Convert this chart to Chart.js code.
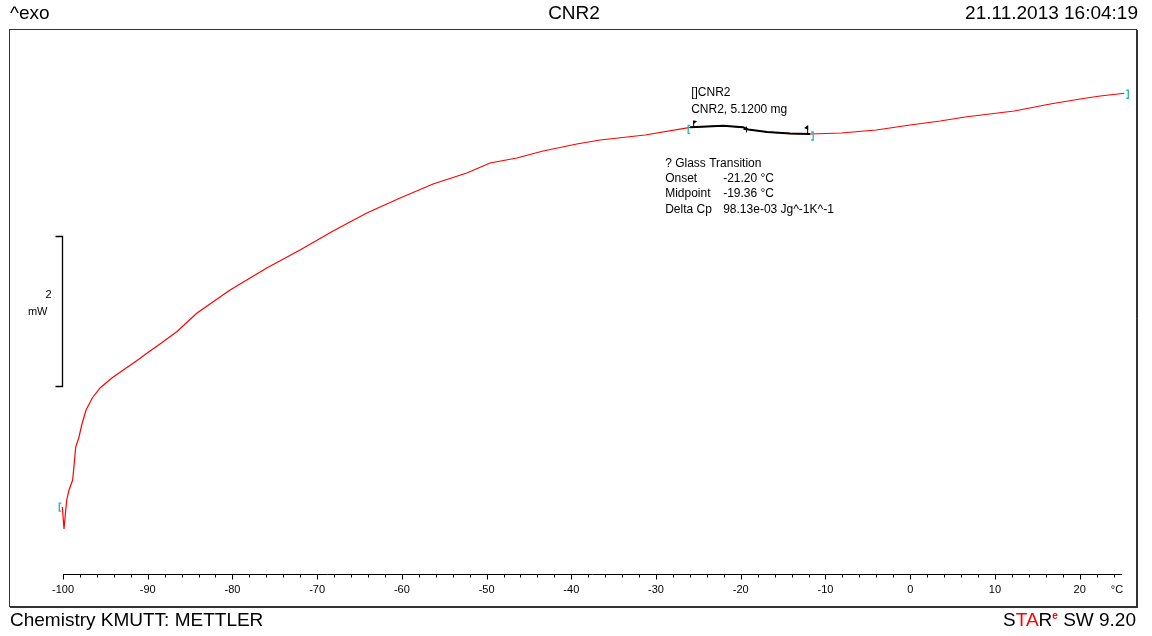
<!DOCTYPE html>
<html>
<head>
  <meta charset="utf-8">
  <title>CNR2 DSC</title>
  <script src="https://cdn.jsdelivr.net/npm/chart.js"></script>
  <style>
    body {
      margin: 0;
      padding: 0;
      background: #fff;
    }
    canvas {
      display: block;
    }
  </style>
</head>
<body>
  <canvas id="dsc" width="1152" height="636"></canvas>

  <script>
    // DSC curve: temperature (°C) vs heat flow (mW, relative to axis line)
    const temps = [-100.08, -99.96, -99.88, -99.73, -99.56, -99.29, -98.86, -98.67, -98.50, -98.11,
      -97.79, -97.28, -96.54, -95.63, -94.23, -92.80, -91.26, -89.73, -88.55, -86.54,
      -84.18, -80.28, -75.95, -72.02, -68.12, -64.14, -60.21, -56.32, -52.34, -49.59,
      -46.43, -43.33, -39.35, -36.60, -31.29, -25.97, -22.08, -19.72, -19.13, -16.88,
      -14.17, -11.81, -8.15, -4.01, 0, 3.54, 6.49, 12.28, 16.53, 20.43, 22.43, 25.27];
    const heatFlow = [0.893, 0.72, 0.60, 0.787, 0.987, 1.12, 1.253, 1.48, 1.693, 1.827,
      1.987, 2.187, 2.347, 2.48, 2.613, 2.727, 2.847, 2.973, 3.067, 3.233,
      3.48, 3.787, 4.08, 4.32, 4.573, 4.813, 5.013, 5.20, 5.347, 5.48,
      5.547, 5.64, 5.733, 5.787, 5.853, 5.956, 5.977, 5.956, 5.927, 5.893,
      5.873, 5.867, 5.88, 5.92, 5.987, 6.04, 6.093, 6.173, 6.267, 6.34, 6.373, 6.41];

    // evaluated glass transition range (black overlay)
    const tgTemps = [-25.97, -22.08, -19.72, -19.13, -16.88, -14.17, -11.81];
    const tgFlow = [5.956, 5.977, 5.956, 5.927, 5.893, 5.873, 5.867];
    const tgMidpoint = -19.36;

    // axes
    const tempMin = -100, tempMax = 25, tempStep = 2, tempLabelStep = 10;
    const flowMin = 0, flowMax = 7.2667;
    const scaleBar = [2.5, 4.5]; // 2 mW

    // texts
    const headerLeft = '^exo';
    const headerTitle = 'CNR2';
    const headerDate = '21.11.2013 16:04:19';
    const footerLeft = 'Chemistry KMUTT: METTLER';
    const sampleLines = ['[]CNR2', 'CNR2, 5.1200 mg'];
    const tgLines = [
      ['? Glass Transition', ''],
      ['Onset', '-21.20 °C'],
      ['Midpoint', '-19.36 °C'],
      ['Delta Cp', '98.13e-03 Jg^-1K^-1']
    ];

    const FONT = '"Liberation Sans", Arial, sans-serif';
    const CYAN = '#22b5b8';

    function toXY(xs, ys) {
      return xs.map((x, i) => ({ x: x, y: ys[i] }));
    }

    function bracket(c, px, py, dir) {
      c.beginPath();
      c.moveTo(px + dir * 2, py - 4);
      c.lineTo(px, py - 4);
      c.lineTo(px, py + 4);
      c.lineTo(px + dir * 2, py + 4);
      c.stroke();
    }

    function interp(xs, ys, v) {
      for (let i = 1; i < xs.length; i++) {
        if (v <= xs[i]) {
          const f = (v - xs[i - 1]) / (xs[i] - xs[i - 1]);
          return ys[i - 1] + f * (ys[i] - ys[i - 1]);
        }
      }
      return ys[ys.length - 1];
    }

    const paper = {
      id: 'paper',
      beforeDraw(chart) {
        const c = chart.ctx;
        c.save();
        c.fillStyle = '#fff';
        c.fillRect(0, 0, chart.width, chart.height);
        c.restore();
      },
      afterDraw(chart) {
        const c = chart.ctx;
        const xs = chart.scales.x, ys = chart.scales.y, a = chart.chartArea;
        c.save();

        // frame
        c.strokeStyle = '#333';
        c.lineWidth = 1;
        c.strokeRect(9.5, 29.5, 1127, 577);
        c.beginPath();
        c.moveTo(1137.5, 30); c.lineTo(1137.5, 607.5);
        c.moveTo(10, 607.5); c.lineTo(1138, 607.5);
        c.stroke();

        // x axis line and ticks
        const axY = Math.round(a.bottom) + 0.5;
        c.strokeStyle = '#000';
        c.beginPath();
        c.moveTo(xs.getPixelForValue(tempMin), axY);
        c.lineTo(xs.right, axY);
        xs.ticks.forEach(t => {
          const px = Math.round(xs.getPixelForValue(t.value)) + 0.5;
          const len = Math.round(t.value) % tempLabelStep === 0 ? 5 : 3;
          c.moveTo(px, axY);
          c.lineTo(px, axY + len);
        });
        c.stroke();
        c.fillStyle = '#000';
        c.font = '11px ' + FONT;
        c.textAlign = 'center';
        c.textBaseline = 'middle';
        c.fillText('°C', xs.right - 5, 590);

        // 2 mW scale bar
        const bx = Math.round(xs.getPixelForValue(tempMin)) - 0.5;
        const by0 = ys.getPixelForValue(scaleBar[0]);
        const by1 = ys.getPixelForValue(scaleBar[1]);
        c.lineWidth = 1.3;
        c.beginPath();
        c.moveTo(bx - 7, by1); c.lineTo(bx, by1); c.lineTo(bx, by0); c.lineTo(bx - 7, by0);
        c.stroke();
        c.textAlign = 'right';
        c.fillText(String(scaleBar[1] - scaleBar[0]), bx - 11, (by0 + by1) / 2 - 17);
        c.fillText('mW', bx - 15, (by0 + by1) / 2);

        // cyan range brackets
        c.strokeStyle = CYAN;
        c.lineWidth = 1.3;
        bracket(c, xs.getPixelForValue(temps[0]) - 3, ys.getPixelForValue(heatFlow[0]), 1);
        bracket(c, xs.getPixelForValue(temps[temps.length - 1]) + 4, ys.getPixelForValue(heatFlow[heatFlow.length - 1]) + 1, -1);
        const t0x = xs.getPixelForValue(tgTemps[0]), t0y = ys.getPixelForValue(tgFlow[0]);
        const t1x = xs.getPixelForValue(tgTemps[tgTemps.length - 1]), t1y = ys.getPixelForValue(tgFlow[tgFlow.length - 1]);
        bracket(c, t0x - 2, t0y + 2, 1);
        bracket(c, t1x + 3, t1y + 2, -1);

        // flags and midpoint cross
        c.strokeStyle = '#000';
        c.fillStyle = '#000';
        c.lineWidth = 1;
        c.beginPath();
        c.moveTo(t0x + 3.5, t0y); c.lineTo(t0x + 3.5, t0y - 6);
        c.moveTo(t1x - 2.5, t1y); c.lineTo(t1x - 2.5, t1y - 8);
        c.stroke();
        c.beginPath();
        c.moveTo(t0x + 3, t0y - 7); c.lineTo(t0x + 7, t0y - 6); c.lineTo(t0x + 3, t0y - 3); c.closePath();
        c.moveTo(t1x - 2, t1y - 9); c.lineTo(t1x - 6, t1y - 6); c.lineTo(t1x - 2, t1y - 4); c.closePath();
        c.fill();
        const mx = Math.round(xs.getPixelForValue(tgMidpoint)) + 0.5;
        const my = Math.round(ys.getPixelForValue(interp(tgTemps, tgFlow, tgMidpoint))) + 0.5;
        c.beginPath();
        c.moveTo(mx - 3, my); c.lineTo(mx + 3, my);
        c.moveTo(mx, my - 3); c.lineTo(mx, my + 3);
        c.stroke();

        // annotation texts
        c.fillStyle = '#000';
        c.font = '12px ' + FONT;
        c.textAlign = 'left';
        c.textBaseline = 'middle';
        sampleLines.forEach((s, i) => c.fillText(s, t0x + 1, t0y - 35 + i * 17));
        tgLines.forEach((l, i) => {
          const ly = t0y + 36 + i * 15.4;
          c.fillText(l[0], t0x - 25, ly);
          if (l[1]) c.fillText(l[1], t0x + 33, ly);
        });

        // header
        c.font = '19px ' + FONT;
        c.fillText(headerLeft, 10, 14);
        c.textAlign = 'center';
        c.fillText(headerTitle, 574, 14);
        c.textAlign = 'right';
        c.fillText(headerDate, 1138, 14);

        // footer
        c.textAlign = 'left';
        c.fillText(footerLeft, 10, 621);
        const parts = [
          ['S', '#000', '19px ' + FONT, 0],
          ['TA', '#ff0000', '19px ' + FONT, 0],
          ['R', '#000', '19px ' + FONT, 0],
          ['e', '#ff0000', 'bold 10px ' + FONT, -5],
          [' SW 9.20', '#000', '19px ' + FONT, 0]
        ];
        let total = 0;
        parts.forEach(p => { c.font = p[2]; total += c.measureText(p[0]).width; });
        let fx = 1136 - total;
        parts.forEach(p => {
          c.font = p[2];
          c.fillStyle = p[1];
          c.fillText(p[0], fx, 621 + p[3]);
          fx += c.measureText(p[0]).width;
        });

        c.restore();
      }
    };

    const ctx = document.getElementById('dsc').getContext('2d');
    const chart = new Chart(ctx, {
      type: 'line',
      data: {
        datasets: [{
          label: 'CNR2',
          data: toXY(temps, heatFlow),
          borderColor: '#ff0000',
          borderWidth: 1.2,
          pointRadius: 0,
          tension: 0,
          clip: false,
          order: 1
        }, {
          label: 'Glass Transition',
          data: toXY(tgTemps, tgFlow),
          borderColor: '#000',
          borderWidth: 2,
          pointRadius: 0,
          tension: 0,
          clip: false,
          order: 0
        }]
      },
      options: {
        responsive: false,
        animation: false,
        devicePixelRatio: 1,
        layout: { padding: { left: 63, right: 30, top: 29, bottom: 29 } },
        plugins: {
          legend: { display: false },
          tooltip: { enabled: false }
        },
        scales: {
          x: {
            type: 'linear',
            position: 'bottom',
            min: tempMin,
            max: tempMax,
            afterFit: s => { s.height = 33; },
            grid: { display: false, drawTicks: false },
            border: { display: false },
            ticks: {
              stepSize: tempStep,
              includeBounds: false,
              autoSkip: false,
              maxRotation: 0,
              padding: 9,
              color: '#000',
              font: { family: FONT, size: 11 },
              callback: v => Math.round(v) % tempLabelStep === 0 ? String(Math.round(v)) : ''
            }
          },
          y: {
            type: 'linear',
            display: false,
            min: flowMin,
            max: flowMax
          }
        }
      },
      plugins: [paper]
    });
  </script>
</body>
</html>
